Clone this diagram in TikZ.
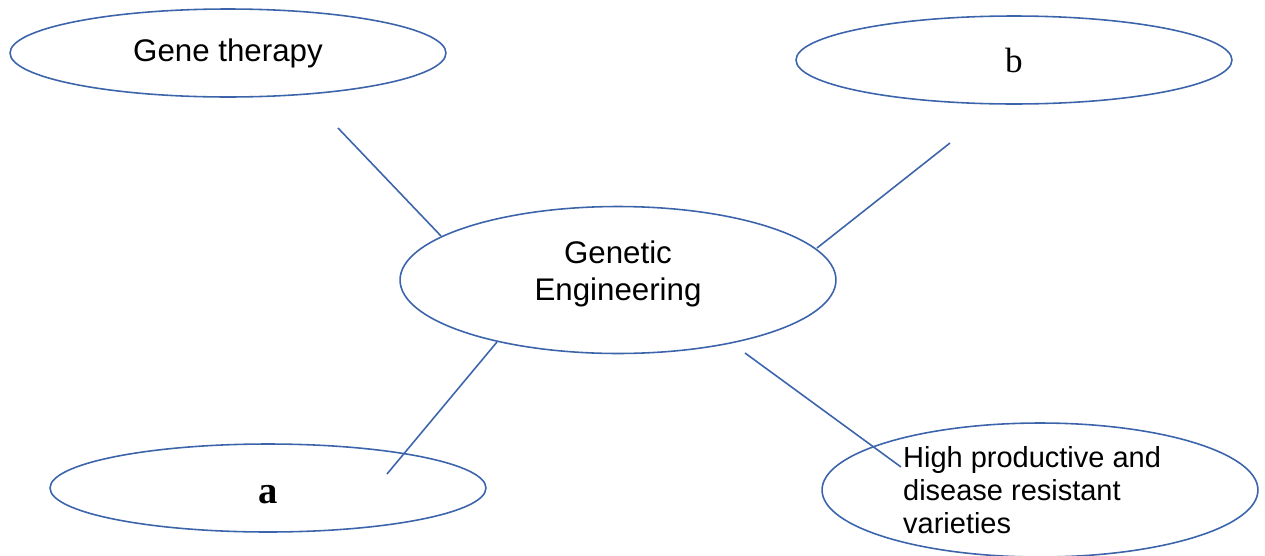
\documentclass[tikz,border=0pt]{standalone}
\usepackage{fontspec}
\usepackage{tikz}
\usetikzlibrary{shapes.geometric}
\newfontfamily\arialfont{Liberation Sans}
\newfontfamily\timesfont{Liberation Serif}
\definecolor{linkblue}{RGB}{60,100,170}

\begin{document}
\begin{tikzpicture}[x=0.02cm, y=-0.02cm, outer sep = 0pt]
          \newcommand{\ovalwidth}{8.72cm}
          \newcommand{\ovalheight}{1.76cm}

          \tikzstyle{oval}=[
            draw=linkblue,
            ellipse,
            line width=0.9pt,
            inner sep=0pt,
            minimum width=\ovalwidth,
            minimum height=\ovalheight,
            font=\arialfont\fontsize{17.8}{21}\selectfont
          ]
          \tikzstyle{line} = [line width=0.9pt, draw=linkblue]

          \useasboundingbox (0,0) rectangle (1265,555);

          % ovals
          \node[oval] (gene) at (228,53) {Gene therapy};
          \node[oval] (b) at (1014,60) {\timesfont\fontsize{20}{24}\selectfont b};
          \node[oval, minimum height=2.94cm, align=center, text depth=10.5pt] (genetic) at (618,280) {Genetic\\Engineering};
          \node[oval, text height=18pt, text depth=0pt] (a) at (268,488) {\timesfont\bfseries\fontsize{22}{26}\selectfont a};
          \node[oval, minimum height=2.68cm, align=left, font=\arialfont\fontsize{16.5}{18.7}\selectfont] (varieties) at (1040,490) {\hspace*{-9pt}High productive and\\\hspace*{-9pt}disease resistant\\\hspace*{-9pt}varieties};

          % free ends of the links
          \coordinate (geneend) at (338,128);
          \coordinate (geneend2) at (441,236);
          \coordinate (bend) at (950,143);
          \coordinate (bend2) at (817,248);
          \coordinate (aend) at (387,474);
          \coordinate (aend2) at (497,342);
          \coordinate (varend) at (901,467);
          \coordinate (varend2) at (745,353);

          \draw[line] (geneend) -- (geneend2);
          \draw[line] (bend) -- (bend2);
          \draw[line] (aend2) -- (aend);
          \draw[line] (varend2) -- (varend);

        \end{tikzpicture}
\end{document}
